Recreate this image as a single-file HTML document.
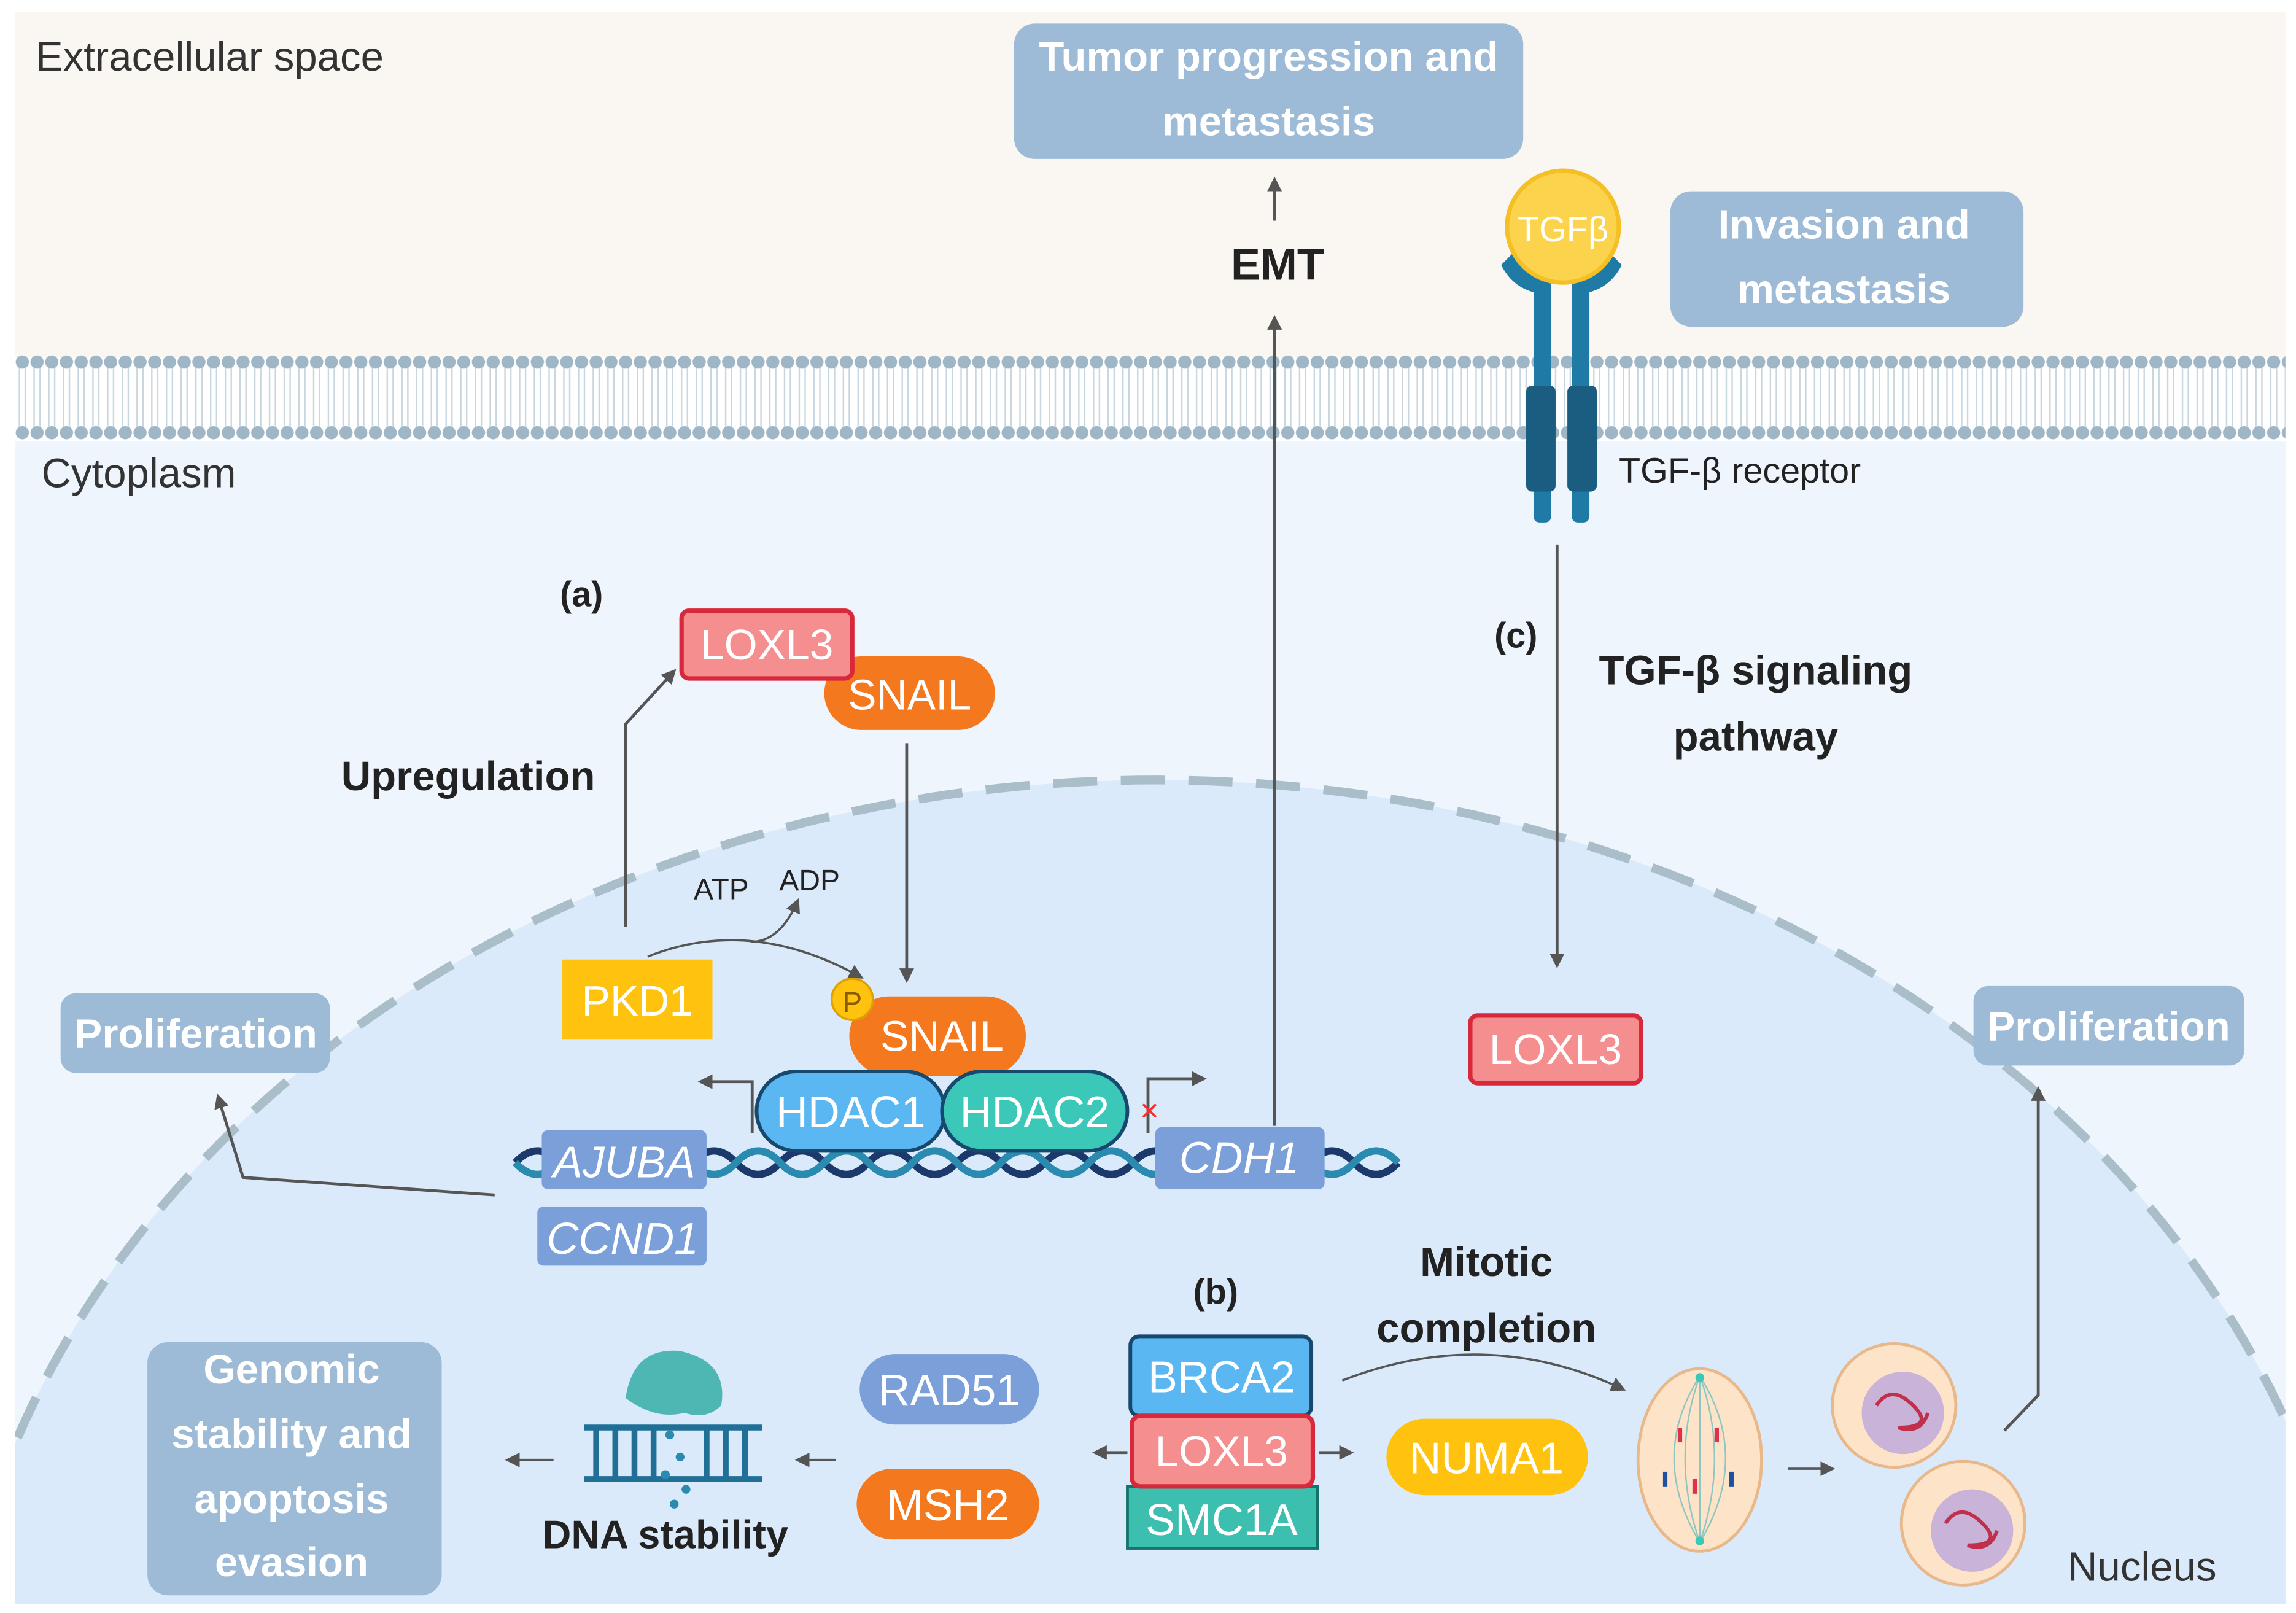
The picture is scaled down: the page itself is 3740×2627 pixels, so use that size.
<!DOCTYPE html>
<html><head><meta charset="utf-8"><style>
html,body{margin:0;padding:0;background:#fff;width:3740px;height:2627px;overflow:hidden;}
svg{display:block;}
text{font-family:"Liberation Sans",sans-serif;}
</style></head><body>
<svg width="3740" height="2627" viewBox="0 0 1560 1096" xmlns="http://www.w3.org/2000/svg">
<defs>
<marker id="ar" markerWidth="10" markerHeight="10" refX="8" refY="5" orient="auto" markerUnits="userSpaceOnUse"><path d="M0,0 L10,5 L0,10 z" fill="#555"/></marker>
<pattern id="mem" width="10" height="60" patternUnits="userSpaceOnUse">
<circle cx="5" cy="6" r="4.5" fill="#9fb6c6"/><circle cx="5" cy="54" r="4.5" fill="#9fb6c6"/>
<line x1="3" y1="10" x2="3" y2="50" stroke="#c8d6e0" stroke-width="1"/><line x1="7" y1="10" x2="7" y2="50" stroke="#c8d6e0" stroke-width="1"/>
</pattern>
<clipPath id="cl"><rect x="10" y="300" width="1543" height="790"/></clipPath>
</defs>
<rect x="10" y="8" width="1543" height="235" fill="#faf6f1"/>
<rect x="10" y="300" width="1543" height="790" fill="#eef5fc"/>
<rect x="10" y="240" width="1543" height="60" fill="url(#mem)"/>
<g clip-path="url(#cl)">
<ellipse cx="785" cy="1200" rx="820" ry="670" fill="#dbeafa" stroke="#a9bec8" stroke-width="6" stroke-dasharray="30,16"/>
</g>
<text x="24" y="48" font-size="28" fill="#333">Extracellular space</text>
<text x="28" y="331" font-size="28" fill="#333">Cytoplasm</text>
<text x="1405" y="1074" font-size="28" fill="#333">Nucleus</text>

<rect x="689" y="16" width="346" height="92" rx="14" fill="#9dbbd6"/>
<text x="862" y="48" font-size="28" font-weight="bold" fill="#fff" text-anchor="middle">Tumor progression and</text>
<text x="862" y="92" font-size="28" font-weight="bold" fill="#fff" text-anchor="middle">metastasis</text>
<rect x="1135" y="130" width="240" height="92" rx="14" fill="#9dbbd6"/>
<text x="1253" y="162" font-size="28" font-weight="bold" fill="#fff" text-anchor="middle">Invasion and</text>
<text x="1253" y="206" font-size="28" font-weight="bold" fill="#fff" text-anchor="middle">metastasis</text>
<text x="868" y="190" font-size="30" font-weight="bold" fill="#222" text-anchor="middle">EMT</text>
<line x1="866" y1="150" x2="866" y2="122" stroke="#555" stroke-width="2" marker-end="url(#ar)"/>
<line x1="866" y1="765" x2="866" y2="216" stroke="#555" stroke-width="2" marker-end="url(#ar)"/>

<g fill="#1f7ba6">
<rect x="1042" y="190" width="12" height="165" rx="4"/>
<rect x="1068" y="190" width="12" height="165" rx="4"/>
<path d="M1020 180 Q1030 200 1054 200 L1054 186 Q1036 186 1030 170 z"/>
<path d="M1102 180 Q1092 200 1068 200 L1068 186 Q1086 186 1092 170 z"/>
<rect x="1037" y="262" width="20" height="72" rx="4" fill="#1a5d80"/>
<rect x="1065" y="262" width="20" height="72" rx="4" fill="#1a5d80"/>
</g>
<circle cx="1062" cy="154" r="38" fill="#fcd34d" stroke="#f5c026" stroke-width="3"/>
<text x="1062" y="164" font-size="24" fill="#fff" text-anchor="middle">TGFβ</text>
<text x="1100" y="328" font-size="24" fill="#222">TGF-β receptor</text>

<text x="1030" y="440" font-size="24" font-weight="bold" fill="#222" text-anchor="middle">(c)</text>
<text x="1193" y="465" font-size="28" font-weight="bold" fill="#222" text-anchor="middle">TGF-β signaling</text>
<text x="1193" y="510" font-size="28" font-weight="bold" fill="#222" text-anchor="middle">pathway</text>
<line x1="1058" y1="370" x2="1058" y2="656" stroke="#555" stroke-width="2" marker-end="url(#ar)"/>
<rect x="999" y="690" width="116" height="46" rx="5" fill="#f58f8f" stroke="#d7283c" stroke-width="3"/>
<text x="1057" y="723" font-size="29" fill="#fff" text-anchor="middle">LOXL3</text>

<text x="395" y="412" font-size="24" font-weight="bold" fill="#222" text-anchor="middle">(a)</text>
<text x="318" y="537" font-size="28" font-weight="bold" fill="#222" text-anchor="middle">Upregulation</text>
<rect x="560" y="446" width="116" height="50" rx="25" fill="#f4781e"/>
<text x="618" y="482" font-size="29" fill="#fff" text-anchor="middle">SNAIL</text>
<rect x="463" y="415" width="116" height="46" rx="5" fill="#f58f8f" stroke="#d7283c" stroke-width="3"/>
<text x="521" y="448" font-size="29" fill="#fff" text-anchor="middle">LOXL3</text>
<polyline points="425,630 425,492 458,456" fill="none" stroke="#555" stroke-width="2" marker-end="url(#ar)"/>
<line x1="616" y1="505" x2="616" y2="666" stroke="#555" stroke-width="2" marker-end="url(#ar)"/>
<path d="M440 650 Q510 622 585 664" fill="none" stroke="#555" stroke-width="1.5" marker-end="url(#ar)"/>
<path d="M510 640 Q530 640 542 612" fill="none" stroke="#555" stroke-width="1.5" marker-end="url(#ar)"/>
<text x="490" y="611" font-size="20" fill="#222" text-anchor="middle">ATP</text>
<text x="550" y="605" font-size="20" fill="#222" text-anchor="middle">ADP</text>
<rect x="382" y="652" width="102" height="54" fill="#ffc20e"/>
<text x="433" y="690" font-size="29" fill="#fff" text-anchor="middle">PKD1</text>
<rect x="577" y="677" width="120" height="54" rx="27" fill="#f4781e"/>
<text x="640" y="714" font-size="29" fill="#fff" text-anchor="middle">SNAIL</text>
<circle cx="579" cy="679" r="14" fill="#ffc20e" stroke="#e0a000" stroke-width="1.5"/>
<text x="579" y="688" font-size="20" fill="#8a5a00" text-anchor="middle">P</text>

<g fill="none" stroke-width="5">
<path d="M350 790 q15 -16 30 0 t30 0 t30 0 t30 0 t30 0 t30 0 t30 0 t30 0 t30 0 t30 0 t30 0 t30 0 t30 0 t30 0 t30 0 t30 0 t30 0 t30 0 t30 0 t30 0" stroke="#1b3a6b"/>
<path d="M350 790 q15 16 30 0 t30 0 t30 0 t30 0 t30 0 t30 0 t30 0 t30 0 t30 0 t30 0 t30 0 t30 0 t30 0 t30 0 t30 0 t30 0 t30 0 t30 0 t30 0 t30 0" stroke="#2a8ab0"/>
</g>
<rect x="368" y="768" width="112" height="40" rx="4" fill="#7a9fd9"/>
<text x="424" y="800" font-size="30" font-style="italic" fill="#fff" text-anchor="middle">AJUBA</text>
<rect x="365" y="820" width="115" height="40" rx="4" fill="#7a9fd9"/>
<text x="423" y="852" font-size="30" font-style="italic" fill="#fff" text-anchor="middle">CCND1</text>
<rect x="785" y="766" width="115" height="42" rx="4" fill="#7a9fd9"/>
<text x="842" y="797" font-size="30" font-style="italic" fill="#fff" text-anchor="middle">CDH1</text>
<polyline points="511,770 511,735 476,735" fill="none" stroke="#555" stroke-width="2" marker-end="url(#ar)"/>
<polyline points="780,770 780,733 818,733" fill="none" stroke="#555" stroke-width="2" marker-end="url(#ar)"/>
<text x="781" y="762" font-size="22" fill="#e33" text-anchor="middle">×</text>
<rect x="514" y="728" width="128" height="54" rx="27" fill="#5ab7f2" stroke="#17496e" stroke-width="2.5"/>
<text x="578" y="766" font-size="30" fill="#fff" text-anchor="middle">HDAC1</text>
<rect x="640" y="728" width="126" height="54" rx="27" fill="#3cc8b8" stroke="#17496e" stroke-width="2.5"/>
<text x="703" y="766" font-size="30" fill="#fff" text-anchor="middle">HDAC2</text>

<rect x="41" y="675" width="183" height="54" rx="10" fill="#9dbbd6"/>
<text x="133" y="712" font-size="28" font-weight="bold" fill="#fff" text-anchor="middle">Proliferation</text>
<polyline points="336,812 165,800 148,745" fill="none" stroke="#555" stroke-width="2" marker-end="url(#ar)"/>
<rect x="1341" y="670" width="184" height="54" rx="10" fill="#9dbbd6"/>
<text x="1433" y="707" font-size="28" font-weight="bold" fill="#fff" text-anchor="middle">Proliferation</text>
<polyline points="1362,972 1385,948 1385,740" fill="none" stroke="#555" stroke-width="2" marker-end="url(#ar)"/>

<text x="826" y="886" font-size="24" font-weight="bold" fill="#222" text-anchor="middle">(b)</text>
<text x="1010" y="867" font-size="28" font-weight="bold" fill="#222" text-anchor="middle">Mitotic</text>
<text x="1010" y="912" font-size="28" font-weight="bold" fill="#222" text-anchor="middle">completion</text>
<path d="M912 938 Q1010 900 1103 944" fill="none" stroke="#555" stroke-width="1.5" marker-end="url(#ar)"/>
<rect x="768" y="908" width="123" height="54" rx="6" fill="#5ab7f2" stroke="#17496e" stroke-width="2.5"/>
<text x="830" y="946" font-size="30" fill="#fff" text-anchor="middle">BRCA2</text>
<rect x="766" y="1010" width="129" height="42" fill="#3cbfae" stroke="#15746a" stroke-width="2"/>
<text x="830" y="1043" font-size="30" fill="#fff" text-anchor="middle">SMC1A</text>
<rect x="769" y="962" width="123" height="48" rx="6" fill="#f58f8f" stroke="#d7283c" stroke-width="3"/>
<text x="830" y="996" font-size="29" fill="#fff" text-anchor="middle">LOXL3</text>
<line x1="766" y1="987" x2="744" y2="987" stroke="#555" stroke-width="2" marker-end="url(#ar)"/>
<line x1="896" y1="987" x2="918" y2="987" stroke="#555" stroke-width="2" marker-end="url(#ar)"/>
<rect x="942" y="964" width="137" height="52" rx="26" fill="#ffc20e"/>
<text x="1010" y="1001" font-size="30" fill="#fff" text-anchor="middle">NUMA1</text>
<rect x="584" y="920" width="122" height="48" rx="24" fill="#7a9fd9"/>
<text x="645" y="955" font-size="30" fill="#fff" text-anchor="middle">RAD51</text>
<rect x="582" y="998" width="124" height="48" rx="24" fill="#f4781e"/>
<text x="644" y="1033" font-size="30" fill="#fff" text-anchor="middle">MSH2</text>
<line x1="568" y1="992" x2="542" y2="992" stroke="#555" stroke-width="1.5" marker-end="url(#ar)"/>
<line x1="376" y1="992" x2="345" y2="992" stroke="#555" stroke-width="1.5" marker-end="url(#ar)"/>

<g stroke="#1f6f96" stroke-width="4">
<line x1="397" y1="970" x2="518" y2="970"/><line x1="397" y1="1005" x2="518" y2="1005"/>
<line x1="405" y1="970" x2="405" y2="1005"/><line x1="418" y1="970" x2="418" y2="1005"/><line x1="431" y1="970" x2="431" y2="1005"/><line x1="444" y1="970" x2="444" y2="1005"/><line x1="480" y1="970" x2="480" y2="1005"/><line x1="493" y1="970" x2="493" y2="1005"/><line x1="506" y1="970" x2="506" y2="1005"/>
</g>
<path d="M425 950 Q430 915 462 918 Q495 925 490 955 Q480 965 465 960 Q445 965 425 950 z" fill="#4fb7b3"/>
<g fill="#2a8ab0"><circle cx="455" cy="975" r="3"/><circle cx="462" cy="990" r="3"/><circle cx="452" cy="1002" r="3"/><circle cx="466" cy="1012" r="3"/><circle cx="458" cy="1022" r="3"/></g>
<text x="452" y="1052" font-size="27" font-weight="bold" fill="#222" text-anchor="middle">DNA stability</text>

<rect x="100" y="912" width="200" height="172" rx="14" fill="#9dbbd6"/>
<g font-size="28" font-weight="bold" fill="#fff" text-anchor="middle">
<text x="198" y="940">Genomic</text><text x="198" y="984">stability and</text><text x="198" y="1028">apoptosis</text><text x="198" y="1071">evasion</text></g>

<ellipse cx="1155" cy="992" rx="42" ry="62" fill="#fde3c8" stroke="#e8b88a" stroke-width="2"/>
<g stroke="#8fc7c0" stroke-width="1" fill="none"><path d="M1155 935 Q1120 990 1155 1048"/><path d="M1155 935 Q1190 990 1155 1048"/><path d="M1155 935 Q1135 990 1155 1048"/><path d="M1155 935 Q1175 990 1155 1048"/><line x1="1155" y1="935" x2="1155" y2="1048"/></g>
<circle cx="1155" cy="936" r="3" fill="#3cc8b8"/><circle cx="1155" cy="1047" r="3" fill="#3cc8b8"/>
<g fill="#e0304a"><rect x="1140" y="970" width="3" height="10"/><rect x="1165" y="970" width="3" height="10"/><rect x="1150" y="1005" width="3" height="10"/></g>
<g fill="#2050a0"><rect x="1130" y="1000" width="3" height="10"/><rect x="1175" y="1000" width="3" height="10"/></g>
<line x1="1215" y1="998" x2="1245" y2="998" stroke="#555" stroke-width="1.5" marker-end="url(#ar)"/>
<circle cx="1287" cy="955" r="42" fill="#fde3c8" stroke="#e8b88a" stroke-width="2"/>
<circle cx="1293" cy="960" r="28" fill="#c9b3d9"/>
<path d="M1275 955 q10 -15 25 0 t-10 15 q15 5 20 -10" fill="none" stroke="#c0304a" stroke-width="2.5"/>
<circle cx="1334" cy="1035" r="42" fill="#fde3c8" stroke="#e8b88a" stroke-width="2"/>
<circle cx="1340" cy="1040" r="28" fill="#c9b3d9"/>
<path d="M1322 1035 q10 -15 25 0 t-10 15 q15 5 20 -10" fill="none" stroke="#c0304a" stroke-width="2.5"/>
</svg>
</body></html>
